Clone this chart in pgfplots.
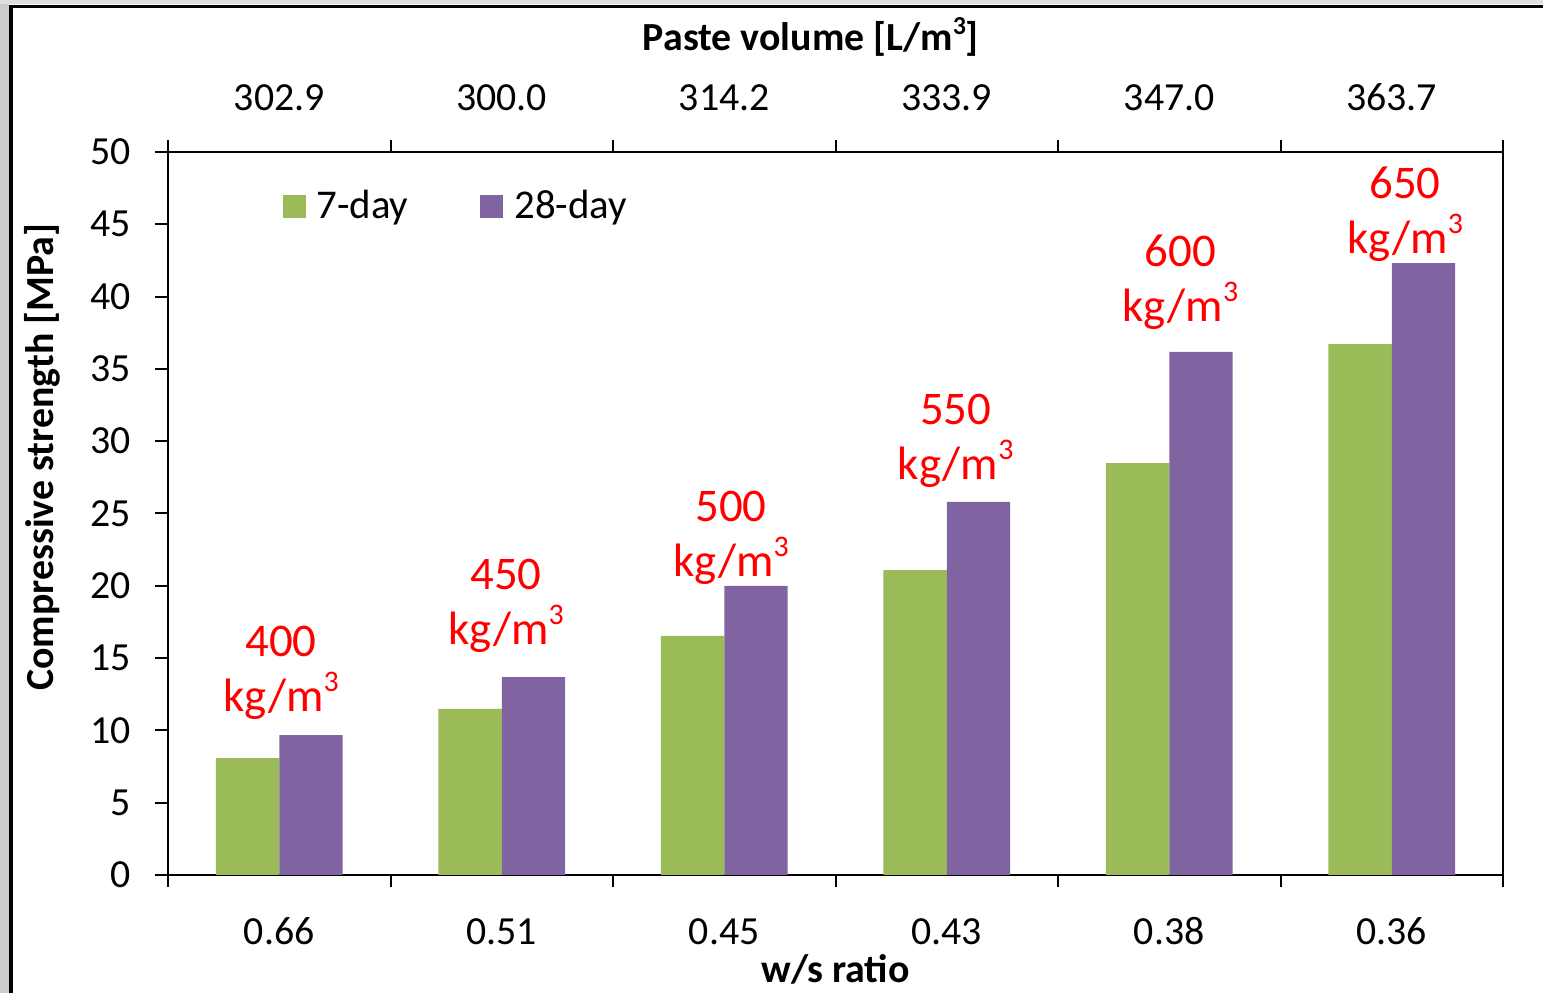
\documentclass[border=0pt]{standalone}
\usepackage{pgfplots}
\pgfplotsset{compat=1.18}
\usepackage{fontspec}
\setmainfont{Carlito}
\definecolor{cgreen}{HTML}{9BBB59}
\definecolor{cpurple}{HTML}{8064A2}
\newcommand{\cube}{\raisebox{0.42em}{\fontsize{15}{15}\selectfont 3}}
\pgfplotsset{
  common/.style={
    width=667.5bp, height=361.5bp, scale only axis,
    xmin=-0.5, xmax=5.5, ymin=0, ymax=50,
    at={(84bp,59bp)}, anchor=south west,
    axis line style={line width=1.2bp, black},
    tick align=outside,
    minor tick length=6bp, major tick length=6.5bp,
    tick style={line width=1bp, black},
    major x tick style={draw=none},
    xtick={0,...,5},
    minor xtick={-0.5,0.5,...,5.5},
    tick label style={font=\fontsize{20}{24}\selectfont},
    xticklabel style={text height=13.5bp, text depth=0bp},
    label style={font=\fontsize{20}{24}\selectfont\bfseries},
    /pgf/number format/assume math mode=true,
  }
}
\begin{document}
\begin{tikzpicture}
\useasboundingbox (0,0) rectangle (771.5bp,496.5bp);
\fill[gray!40] (0,0) rectangle (4.5bp,496.5bp);
\fill[gray!25] (0,494.5bp) rectangle (771.5bp,496.5bp);
\draw[line width=1.6bp] (5.5bp,0) -- (5.5bp,493.3bp) -- (771.5bp,493.3bp);
\begin{axis}[common,
  ybar=0pt, bar width=0.285,
  xtick pos=bottom, ytick pos=left,
  xticklabels={0.66,0.51,0.45,0.43,0.38,0.36},
  xticklabel style={yshift=-11bp},
  yticklabel style={xshift=-8.5bp},
  ytick={0,5,...,50},
  xlabel={w/s ratio},
  xlabel style={at={(axis description cs:0.5,-0.131)}, anchor=center},
  ylabel={Compressive strength [MPa]},
  ylabel style={at={(axis description cs:-0.0944,0.578)}, anchor=center},
  legend style={at={(axis description cs:0.081,0.925)}, anchor=west,
    draw=none, fill=none, font=\fontsize{20.5}{24}\selectfont,
    legend columns=2,
    /tikz/every odd column/.append style={column sep=3.5bp},
    /tikz/every even column/.append style={column sep=34bp}},
  legend image code/.code={\fill[#1] (0bp,-5.75bp) rectangle (11.5bp,5.75bp);},
]
\addplot[fill=cgreen, draw=none] coordinates {(0,8.09) (1,11.48) (2,16.53) (3,21.09) (4,28.49) (5,36.72)};
\addplot[fill=cpurple, draw=none] coordinates {(0,9.68) (1,13.69) (2,19.99) (3,25.8) (4,36.17) (5,42.32)};
\legend{7-day, 28-day}
\begin{scope}[every node/.style={text=red, font=\fontsize{23.5}{27.5}\selectfont, align=center}]
\node at (axis cs:0.008,14.0) {400\\kg/m\cube};
\node at (axis cs:1.019,18.64) {450\\kg/m\cube};
\node at (axis cs:2.03,23.31) {500\\kg/m\cube};
\node at (axis cs:3.04,30.05) {550\\kg/m\cube};
\node at (axis cs:4.05,40.98) {600\\kg/m\cube};
\node at (axis cs:5.06,45.68) {650\\kg/m\cube};
\end{scope}
\end{axis}
\begin{axis}[common,
  axis x line*=top, axis y line=none,
  xticklabels={302.9,300.0,314.2,333.9,347.0,363.7},
  xticklabel style={yshift=10.5bp},
  xlabel={Paste volume [L/m\raisebox{0.4em}{\fontsize{13}{13}\selectfont 3}]},
  xlabel style={at={(axis description cs:0.4816,1.159)}, anchor=center},
]
\addplot[draw=none] coordinates {(0,0)};
\end{axis}
\end{tikzpicture}
\end{document}
